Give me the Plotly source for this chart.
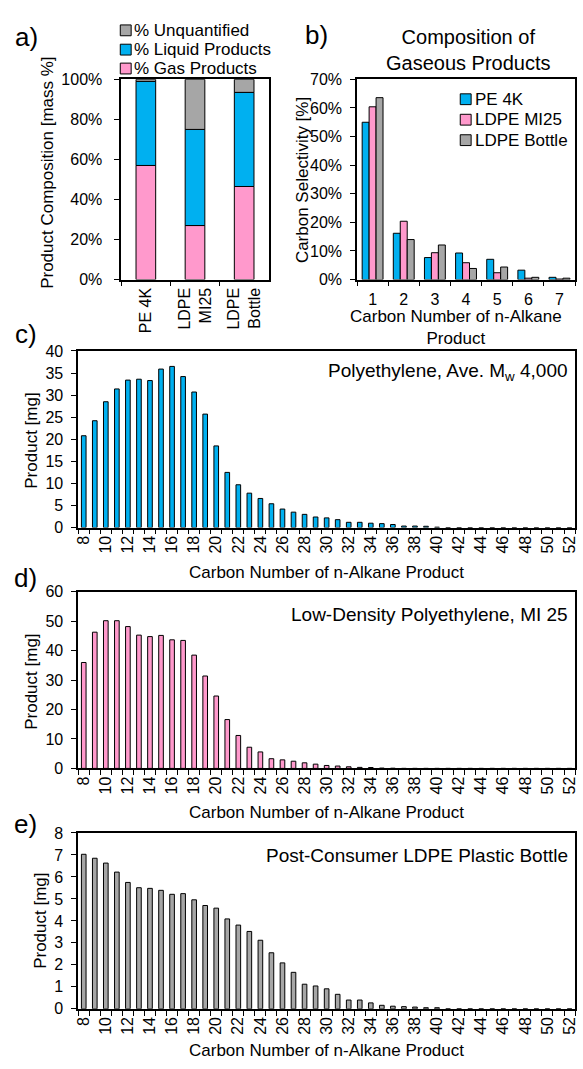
import plotly.graph_objects as go

W, H = 583, 1069

# ---------------- data ----------------
# Panel a: product composition [mass %]
samples = ["PE 4K", "LDPE<br>MI25", "LDPE<br>Bottle"]
gas_pct = [57.0, 27.0, 46.5]
liquid_pct = [42.0, 48.0, 47.0]
unquant_pct = [1.0, 25.0, 6.5]

# Panel b: carbon selectivity of gaseous products [%]
gas_carbon = ["1", "2", "3", "4", "5", "6", "7"]
sel_pe4k = [55.0, 16.2, 7.7, 9.3, 7.1, 3.3, 0.8]
sel_ldpe_mi25 = [60.4, 20.4, 9.4, 5.9, 2.4, 0.5, 0.2]
sel_ldpe_bottle = [63.6, 14.0, 12.1, 3.9, 4.4, 0.8, 0.5]

# Panels c-e: n-alkane product [mg] vs carbon number
carbon_number = list(range(8, 53))
pe4k_mg = [20.8, 24.2, 28.5, 31.4, 33.4, 33.6, 33.3, 35.9, 36.5, 34.2,
           30.7, 25.7, 18.5, 12.5, 9.7, 7.8, 6.6, 5.4, 4.2, 3.5,
           3.0, 2.4, 2.2, 1.8, 1.2, 1.2, 1.0, 0.9, 0.7, 0.35,
           0.35, 0.3, 0.1, 0, 0, 0, 0, 0, 0, 0, 0, 0, 0, 0, 0]
ldpe_mi25_mg = [36.0, 46.3, 50.2, 50.2, 48.2, 45.3, 44.8, 45.2, 43.7, 43.5,
                38.5, 31.4, 24.6, 16.6, 11.2, 7.2, 5.6, 3.3, 2.9, 2.45,
                1.9, 1.45, 1.0, 0.8, 0.55, 0.35, 0.3, 0.1, 0.05, 0, 0, 0,
                0, 0, 0, 0, 0, 0, 0, 0, 0, 0, 0, 0, 0]
ldpe_bottle_mg = [7.03, 6.85, 6.63, 6.22, 5.75, 5.51, 5.48, 5.39, 5.21, 5.24,
                  4.96, 4.70, 4.58, 4.09, 3.81, 3.52, 3.12, 2.55, 2.09, 1.66,
                  1.12, 1.04, 0.91, 0.66, 0.40, 0.40, 0.27, 0.16, 0.12, 0.10,
                  0.08, 0.05, 0.05, 0, 0, 0, 0, 0, 0, 0, 0, 0, 0, 0, 0]
carbon_ticks = list(range(8, 53, 2))

# ---------------- styles ----------------
BLUE = "#00B0F0"
PINK = "#FF99CC"
GRAY = "#A6A6A6"
FONT = "Liberation Sans, Arial, sans-serif"
TXT = "#000000"
LINE = dict(color="black", width=1)


def px_x(p):
    return p / W


def px_y(p):
    return 1 - p / H


fig = go.Figure()

# ---- panel a (stacked via explicit base) ----
series_a = [
    ("% Gas Products", gas_pct, PINK, [0] * len(samples)),
    ("% Liquid Products", liquid_pct, BLUE, gas_pct),
    ("% Unquantified", unquant_pct, GRAY, [g + l for g, l in zip(gas_pct, liquid_pct)]),
]
for nm, vals, col, base in series_a:
    fig.add_trace(go.Bar(x=samples, y=vals, base=base, name=nm,
                         marker=dict(color=col, line=LINE), width=0.4, offset=-0.2,
                         xaxis="x", yaxis="y"))

# ---- panel b (grouped) ----
series_b = [("PE 4K", sel_pe4k, BLUE), ("LDPE MI25", sel_ldpe_mi25, PINK),
            ("LDPE Bottle", sel_ldpe_bottle, GRAY)]
for nm, vals, col in series_b:
    fig.add_trace(go.Bar(x=gas_carbon, y=vals, name=nm,
                         marker=dict(color=col, line=LINE),
                         xaxis="x2", yaxis="y2"))

# ---- panels c, d, e ----
for vals, col, ax, nm in [(pe4k_mg, BLUE, "3", "PE 4K"), (ldpe_mi25_mg, PINK, "4", "LDPE MI25"),
                          (ldpe_bottle_mg, GRAY, "5", "LDPE Bottle")]:
    fig.add_trace(go.Bar(x=carbon_number, y=vals, width=0.42, name=nm,
                         marker=dict(color=col, line=LINE),
                         xaxis="x" + ax, yaxis="y" + ax))

axis_common = dict(showline=True, linecolor="black", linewidth=1.6, mirror=True,
                   ticks="outside", ticklen=5, tickcolor="black", tickwidth=1.4,
                   showgrid=False, zeroline=False,
                   tickfont=dict(size=16, color=TXT, family=FONT))

top_ab, bot_ab = 72.5, 276
fig.update_layout(
    xaxis=dict(axis_common, domain=[px_x(119.5), px_x(268.5)], anchor="y",
               type="category", tickson="boundaries", tickangle=-90),
    yaxis=dict(axis_common, domain=[px_y(bot_ab), px_y(top_ab)], anchor="x",
               range=[0, 100], dtick=20, ticksuffix="%", ticklabelstandoff=9),
    xaxis2=dict(axis_common, domain=[px_x(357.7), px_x(578)], anchor="y2",
                type="category", tickson="boundaries", tickangle=0, ticklabelstandoff=4),
    yaxis2=dict(axis_common, domain=[px_y(bot_ab), px_y(top_ab)], anchor="x2",
                range=[0, 70], dtick=10, ticksuffix="%", ticklabelstandoff=5),
)

panel_y = {"3": (348.5, 528), "4": (593.3, 772.7), "5": (838.3, 1017)}
panel_range = {"3": ([0, 40], 5), "4": ([0, 60], 10), "5": ([0, 8], 1)}
for ax, (t, b) in panel_y.items():
    rng, dt = panel_range[ax]
    fig.update_layout({
        "xaxis" + ax: dict(axis_common, domain=[px_x(76), px_x(578)], anchor="y" + ax,
                           range=[7.5, 52.5], tickmode="array", tickvals=carbon_ticks,
                           ticks="", tickangle=-90,
                           minor=dict(tick0=7.5, dtick=1, ticks="outside", ticklen=5,
                                      tickcolor="black", tickwidth=1.4, showgrid=False)),
        "yaxis" + ax: dict(axis_common, domain=[px_y(b), px_y(t)], anchor="x" + ax,
                           range=rng, dtick=dt, ticklabelstandoff=5),
    })

fig.update_layout(
    width=W, height=H, autosize=False,
    margin=dict(l=0, r=0, t=0, b=0),
    paper_bgcolor="white", plot_bgcolor="white",
    font=dict(family=FONT, color=TXT, size=16),
    barmode="group", bargap=0.33, bargroupgap=0,
    showlegend=False,
)

ann = []
shapes = []


def add_text(text, x, y, size=17, angle=0, xanchor="center"):
    ann.append(dict(text=text, x=px_x(x), y=px_y(y), xref="paper", yref="paper",
                    showarrow=False, textangle=angle, xanchor=xanchor, yanchor="middle",
                    font=dict(size=size, color=TXT, family=FONT)))


def add_legend(entries, sx, rows, tx):
    # entries: (name, colour); sx: swatch left px; rows: row centres px; tx: text left px
    for (nm, col), ry in zip(entries, rows):
        shapes.append(dict(type="rect", xref="paper", yref="paper",
                           x0=px_x(sx), x1=px_x(sx + 11), y0=px_y(ry + 5.5), y1=px_y(ry - 5.5),
                           fillcolor=col, line=dict(color="black", width=1)))
        add_text(nm, tx, ry, size=17, xanchor="left")


# legends
add_legend([(nm, col) for nm, _, col, _ in reversed(series_a)], 118.5, [22.7, 42.3, 61.5], 130.5)
add_legend([(nm, col) for nm, _, col in series_b], 462, [92.7, 113.5, 134.3], 474.5)

# panel labels
add_text("a)", 24, 29, size=26)
add_text("b)", 317, 27, size=26)
add_text("c)", 23, 331, size=26)
add_text("d)", 23, 579, size=26)
add_text("e)", 23, 829, size=26)
# titles
add_text("Composition of<br>Gaseous Products", 470, 43, size=20)
add_text("Polyethylene, Ave. M<sub>w</sub> 4,000", 573, 370, size=19, xanchor="right")
add_text("Low-Density Polyethylene, MI 25", 573, 616, size=19, xanchor="right")
add_text("Post-Consumer LDPE Plastic Bottle", 573, 861, size=19, xanchor="right")
# axis titles
add_text("Product Composition [mass %]", 45, 168, angle=-90)
add_text("Carbon Selectivity [%]", 302, 175, angle=-90)
add_text("Carbon Number of n-Alkane<br>Product", 458, 325)
add_text("Product [mg]", 28, 440, angle=-90)
add_text("Product [mg]", 28, 685, angle=-90)
add_text("Product [mg]", 38, 928, angle=-90)
add_text("Carbon Number of n-Alkane Product", 327, 574)
add_text("Carbon Number of n-Alkane Product", 327, 818)
add_text("Carbon Number of n-Alkane Product", 327, 1059)

fig.update_layout(annotations=ann, shapes=shapes)

fig.write_html(
    "out.html",
    config={"displayModeBar": False},
    post_script="document.body.style.margin='0';document.body.style.overflow='hidden';"
                "document.documentElement.style.overflow='hidden';",
)
